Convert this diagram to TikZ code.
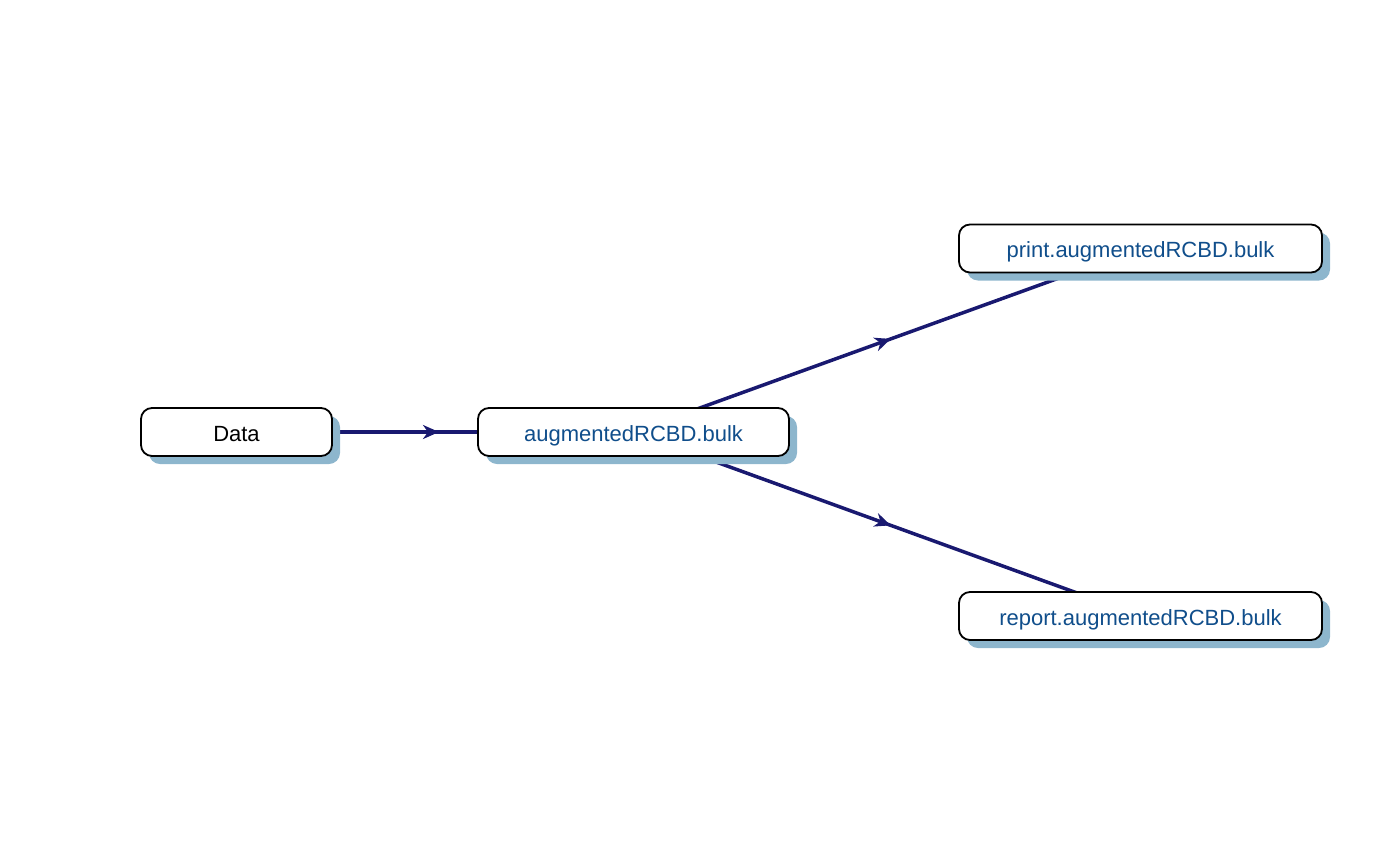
\documentclass[tikz,border=0pt]{standalone}
\usepackage{fontspec}
\setmainfont{Liberation Sans}
\usetikzlibrary{shadows,decorations.markings,arrows.meta,backgrounds}
\definecolor{edgec}{HTML}{191970}
\definecolor{shadowc}{HTML}{8DB6CD}
\definecolor{fnc}{HTML}{104E8B}
\tikzset{
  box/.style={draw=black, line width=1.8pt, fill=white, rounded corners=11pt,
    inner sep=0pt, minimum height=48pt, text height=18pt, text depth=0pt,
    font=\fontsize{22}{26}\selectfont,
    drop shadow={shadow xshift=8pt, shadow yshift=-8pt, fill=shadowc, opacity=1, draw=none}},
  fnbox/.style={box, text=fnc},
  flow/.style={draw=edgec, line width=3.5pt,
    postaction={decorate, decoration={markings,
      mark=at position 0.5 with {\arrow[edgec,xshift=4pt]{Stealth[length=16pt,width=14pt,inset=5pt]}}}}}
}
\begin{document}
\begin{tikzpicture}[x=1pt,y=-1pt]
\useasboundingbox (0,0) rectangle (1400,865);
\node[box, minimum width=191pt] (data) at (236.5,432) {Data};
\node[fnbox, minimum width=311pt] (aug) at (633.5,432) {augmentedRCBD.bulk};
\node[fnbox, minimum width=363pt] (print) at (1140.5,248.5) {print.augmentedRCBD.bulk};
\node[fnbox, minimum width=363pt] (report) at (1140.5,616) {report.augmentedRCBD.bulk};
\begin{pgfonlayer}{background}
\path[flow] (data.center) -- (aug.center);
\path[flow] (aug.center) -- (print.center);
\path[flow] (aug.center) -- (report.center);
\end{pgfonlayer}
\end{tikzpicture}
\end{document}
